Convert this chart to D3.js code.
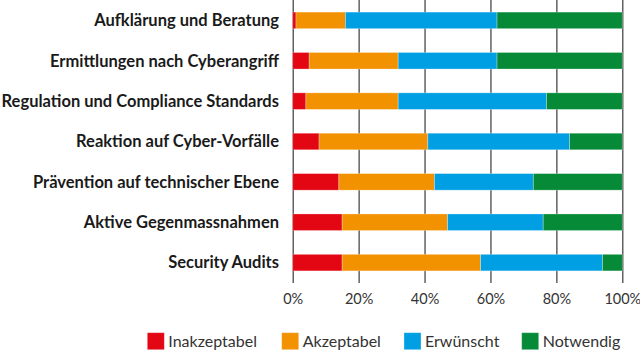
<!DOCTYPE html>
<html>
<head>
<meta charset="utf-8">
<script src="https://cdn.jsdelivr.net/npm/d3@7"></script>
<style>
  body { margin: 0; background: #fff; }
  svg { display: block; font-family: Lato, "Open Sans", sans-serif; }
</style>
</head>
<body>
<div class="canvas"></div>
<script>
// data
const categories = [
  "Aufklärung und Beratung",
  "Ermittlungen nach Cyberangriff",
  "Regulation und Compliance Standards",
  "Reaktion auf Cyber-Vorfälle",
  "Prävention auf technischer Ebene",
  "Aktive Gegenmassnahmen",
  "Security Audits"
];
const seriesNames = ["Inakzeptabel", "Akzeptabel", "Erwünscht", "Notwendig"];
const inakzeptabel = [1, 5, 4, 8, 14, 15, 15];
const akzeptabel = [15, 27, 28, 33, 29, 32, 42];
const erwuenscht = [46, 30, 45, 43, 30, 29, 37];
const notwendig = [38, 38, 23, 16, 27, 24, 6];
const ticks = [0, 20, 40, 60, 80, 100];

const colors = ["#e30613", "#f39200", "#009fe3", "#078a37"];

const dims = { width: 640, height: 355 };
const margin = { top: 0, left: 292.7, right: 17.7, plotH: 283 };
const plotW = dims.width - margin.left - margin.right;

const svg = d3
  .select(".canvas")
  .append("svg")
  .attr("width", dims.width)
  .attr("height", dims.height);

// build rows for the stack
const rows = categories.map((c, i) => ({
  name: c,
  Inakzeptabel: inakzeptabel[i],
  Akzeptabel: akzeptabel[i],
  "Erwünscht": erwuenscht[i],
  Notwendig: notwendig[i]
}));

const stack = d3.stack().keys(seriesNames);
const stacked = stack(rows);

const x = d3.scaleLinear().domain([0, 100]).range([0, plotW]);
const y = d3
  .scaleBand()
  .domain(categories)
  .range([0, margin.plotH])
  .paddingInner(0.59)
  .paddingOuter(0.3);
const color = d3.scaleOrdinal().domain(seriesNames).range(colors);

const graph = svg
  .append("g")
  .attr("transform", `translate(${margin.left},${margin.top})`);

// grid / x axis
const xAxis = d3
  .axisBottom(x)
  .tickValues(ticks)
  .tickSizeInner(-margin.plotH)
  .tickSizeOuter(0)
  .tickPadding(11)
  .tickFormat((d) => d + "%");

const axisG = graph
  .append("g")
  .attr("transform", `translate(0,${margin.plotH})`)
  .call(xAxis);
axisG.select(".domain").remove();
axisG.selectAll(".tick line").attr("stroke", "#3a3a3a").attr("stroke-width", 1.2);
axisG
  .selectAll(".tick text")
  .attr("fill", "#333")
  .style("font-size", "14.5px")
  .style("font-family", "Lato, sans-serif");

// bars
graph
  .selectAll("g.series")
  .data(stacked)
  .enter()
  .append("g")
  .attr("class", "series")
  .attr("fill", (d) => color(d.key))
  .selectAll("rect")
  .data((d) => d)
  .enter()
  .append("rect")
  .attr("x", (d) => x(d[0]))
  .attr("y", (d) => y(d.data.name))
  .attr("width", (d) => x(d[1]) - x(d[0]))
  .attr("height", y.bandwidth())
  .attr("stroke", "rgba(255,255,255,0.35)")
  .attr("stroke-width", 0.8);

// category labels
svg
  .append("g")
  .selectAll("text")
  .data(categories)
  .enter()
  .append("text")
  .attr("x", 279)
  .attr("y", (d) => y(d) + y.bandwidth() / 2)
  .attr("dy", "0.35em")
  .attr("text-anchor", "end")
  .attr("fill", "#1a1a1a")
  .style("font-size", "16.5px")
  .style("font-weight", "bold")
  .text((d) => d);

// legend
const legendX = [147.3, 281.7, 404, 521.7];
const legend = svg
  .append("g")
  .selectAll("g")
  .data(seriesNames)
  .enter()
  .append("g")
  .attr("transform", (d, i) => `translate(${legendX[i]},332.7)`);

legend
  .append("rect")
  .attr("width", 17)
  .attr("height", 17)
  .attr("fill", (d) => color(d))
  .attr("stroke", "rgba(255,255,255,0.35)")
  .attr("stroke-width", 0.8);

legend
  .append("text")
  .attr("x", 21)
  .attr("y", 8.5)
  .attr("dy", "0.35em")
  .attr("fill", "#333")
  .style("font-size", "16px")
  .text((d) => d);
</script>
</body>
</html>
